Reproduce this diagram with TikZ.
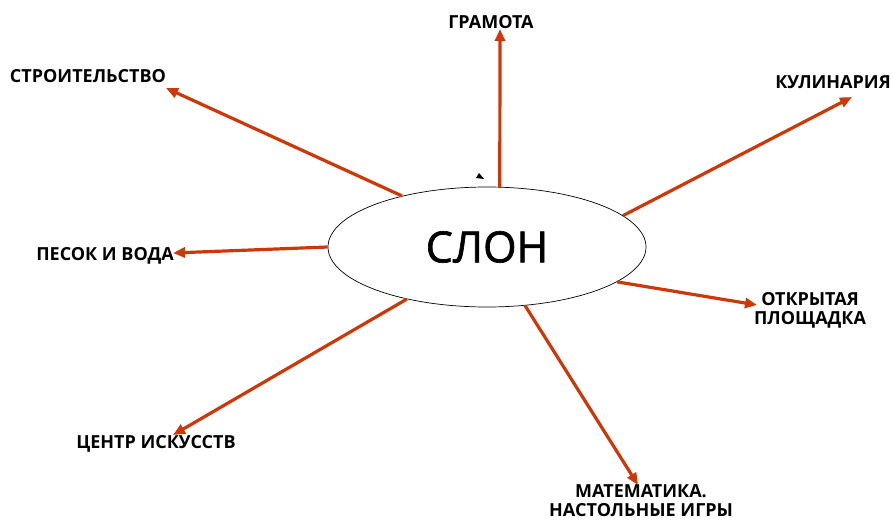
\documentclass[tikz,border=0pt]{standalone}
\usepackage{fontspec}
\setmainfont{Open Sans}
\newfontfamily\slonfont[FakeBold=1.5]{Open Sans}
\usetikzlibrary{arrows.meta,shapes.geometric}
\definecolor{arrowred}{RGB}{206,55,8}

\tikzset{
  branch/.style={draw=arrowred, line width=3.2pt, -{Triangle[length=12pt,width=10pt]}},
  topic/.style={font=\bfseries\fontsize{18}{19}\selectfont, inner sep=0pt, align=center},
}

\begin{document}
\begin{tikzpicture}[x=1pt,y=-1pt]
    \useasboundingbox (0,0) rectangle (893,522);

    \node[draw, ellipse, minimum width=318pt, minimum height=120pt, inner sep=0pt, line width=0.7pt] (slon) at (487,247) {\slonfont\fontsize{43}{43}\selectfont СЛОН};

    \node[topic] (gramota) at (491,22) {ГРАМОТА};
    \node[topic] (stroit) at (88,76) {СТРОИТЕЛЬСТВО};
    \node[topic] (kulin) at (833,82) {КУЛИНАРИЯ};
    \node[topic] (pesok) at (105,256) {ПЕСОК И ВОДА};
    \node[topic] (otkr) at (810,310) {ОТКРЫТАЯ\\ПЛОЩАДКА};
    \node[topic] (matem) at (641,501) {МАТЕМАТИКА.\\НАСТОЛЬНЫЕ ИГРЫ};
    \node[topic] (centr) at (156,444) {ЦЕНТР ИСКУССТВ};

    % arrow tips next to the labels
    \coordinate (t1) at (500,29);
    \coordinate (t2) at (166,88);
    \coordinate (t3) at (852,97);
    \coordinate (t4) at (173,253);
    \coordinate (t5) at (757,305);
    \coordinate (t6) at (638,485);
    \coordinate (t7) at (173,435);

    \draw[branch] (slon.78) -- (t1);
    \draw[branch] (slon.149) -- (t2);
    \draw[branch] (slon.13) -- (t3);
    \draw[branch] (slon.180) -- (t4);
    \draw[branch] (slon.-15) -- (t5);
    \draw[branch] (slon.-57) -- (t6);
    \draw[branch] (slon.213) -- (t7);

    % small stray mark above the ellipse
    \fill (479,173) -- (484,179) -- (476,178) -- cycle;
\end{tikzpicture}
\end{document}
